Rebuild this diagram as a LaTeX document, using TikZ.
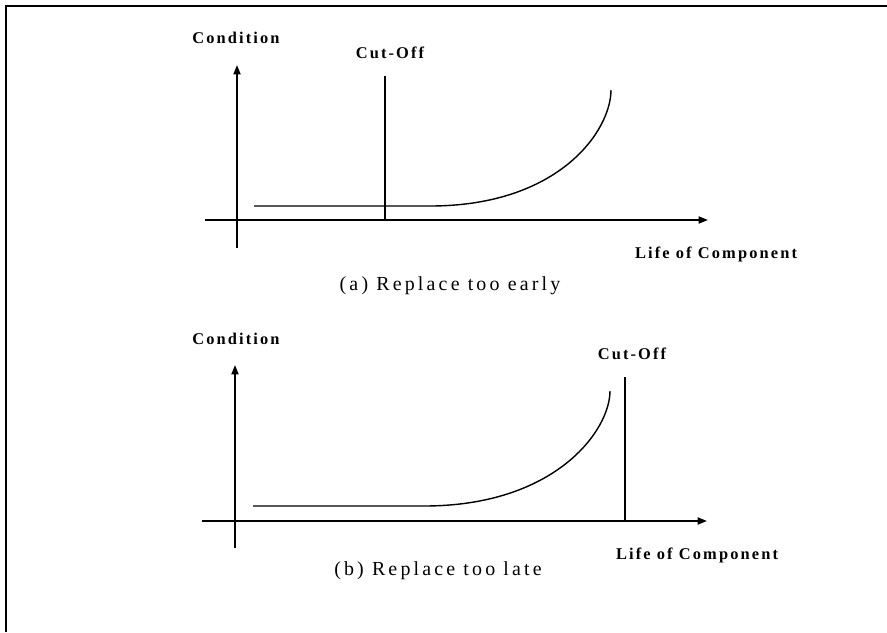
\documentclass[tikz,border=0pt]{standalone}
\usepackage{fontspec}
\setmainfont{Liberation Serif}
\newfontfamily\lblfont[LetterSpace=13]{Liberation Serif}
\newfontfamily\capfont[LetterSpace=16]{Liberation Serif}
\usetikzlibrary{arrows.meta}
\begin{document}
\begin{tikzpicture}[x=0.03cm, y=-0.03cm, >={Triangle[length=8pt,width=6pt]},
  axis/.style={line width=1.5pt},
  curveline/.style={line width=1.2pt},
  lbl/.style={font=\lblfont\bfseries\fontsize{14}{16}\selectfont, inner sep=1pt},
  captxt/.style={font=\capfont\fontsize{17}{19}\selectfont, inner sep=1pt}]
  \useasboundingbox (0,0) rectangle (887,632);
  % Frame (top and left only)
  \draw[line width=1.2pt] (6,632) -- (6,6) -- (887,6);
  % (a) Replace too early
  \coordinate (a-o) at (237,220);
  \coordinate (a-ytop) at (237,65);
  \coordinate (a-ybot) at (237,248);
  \coordinate (a-xl) at (205,220);
  \coordinate (a-xr) at (708,220);
  \draw[axis, ->] (a-ybot) -- (a-ytop);
  \draw[axis, ->] (a-xl) -- (a-xr);
  \coordinate (a-cut) at (385,76);
  \draw[axis] (a-cut) -- (a-cut |- a-o);
  \draw[curveline] (254,206) -- (430,206) .. controls (560,206) and (611,130) .. (611,90);
  \node[lbl] (a-cond) at (236,38) {Condition};
  \node[lbl] (a-cutlbl) at (390,53) {Cut-Off};
  \node[lbl] (a-life) at (716,254) {Life of Component};
  \node[captxt] (a-cap) at (450,286) {(a) Replace too early};
  % (b) Replace too late
  \coordinate (b-o) at (235,521);
  \coordinate (b-ytop) at (235,365);
  \coordinate (b-ybot) at (235,548);
  \coordinate (b-xl) at (202,521);
  \coordinate (b-xr) at (707,521);
  \draw[axis, ->] (b-ybot) -- (b-ytop);
  \draw[axis, ->] (b-xl) -- (b-xr);
  \coordinate (b-cut) at (625,377);
  \draw[axis] (b-cut) -- (b-cut |- b-o);
  \draw[curveline] (253,506) -- (424,506) .. controls (556,506) and (610,430) .. (610,391);
  \node[lbl] (b-cond) at (236,339) {Condition};
  \node[lbl] (b-cutlbl) at (632,354) {Cut-Off};
  \node[lbl] (b-life) at (697,555) {Life of Component};
  \node[captxt] (b-cap) at (438,571) {(b) Replace too late};
\end{tikzpicture}
\end{document}
